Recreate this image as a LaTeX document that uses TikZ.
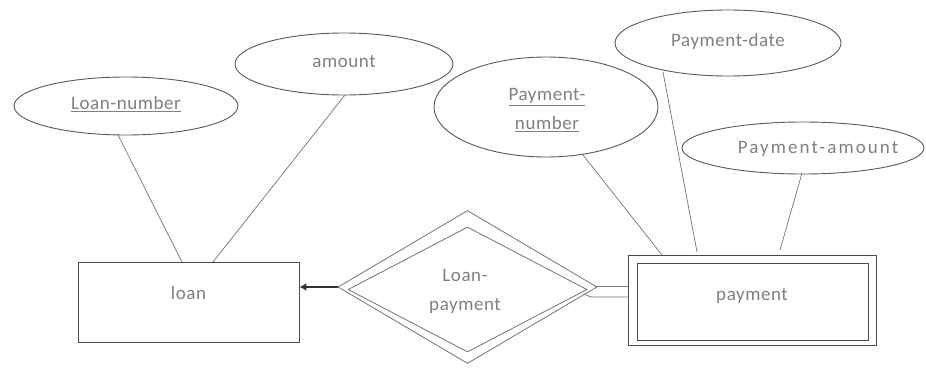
\documentclass[tikz,border=0pt]{standalone}
\usepackage{fontspec}
\setmainfont{Carlito}
\usetikzlibrary{shapes.geometric,arrows.meta}
\begin{document}
\begin{tikzpicture}[x=1pt,y=-1pt,
  attr/.style={ellipse,draw=black!65,line width=0.9pt,inner sep=0pt},
  lbl/.style={text=black!50,font=\fontsize{19}{29}\selectfont\addfontfeature{LetterSpace=3},align=center},
  wide/.style={font=\fontsize{19}{29}\selectfont\addfontfeature{LetterSpace=11}},
  ent/.style={rectangle,draw=black!70,line width=0.9pt,inner sep=0pt},
  rel/.style={diamond,draw=black!55,line width=0.8pt,inner sep=0pt},
  conn/.style={draw=black!55,line width=0.7pt}]
\fill[white] (0,0) rectangle (926,367);
\useasboundingbox (0,0) rectangle (926,367);
% attributes
\node[attr,minimum width=224pt,minimum height=58pt] (ln) at (126,106) {};
\node[lbl] at (126,104) {\underline{Loan-number}};
\node[attr,minimum width=218pt,minimum height=62pt] (am) at (344,64) {};
\node[lbl] at (344,62) {amount};
\node[attr,minimum width=224pt,minimum height=100pt] (pn) at (546,107) {};
\node[lbl] at (547,110) {\underline{Payment-}\\\underline{number}};
\node[attr,minimum width=226pt,minimum height=66pt] (pd) at (728,43) {};
\node[lbl] at (728,41) {Payment-date};
\node[attr,minimum width=242pt,minimum height=52pt] (pa) at (803,148) {};
\node[lbl,wide] at (818,149) {Payment-amount};
% entities
\node[ent,minimum width=221pt,minimum height=80pt] (loan) at (188.5,302) {};
\node[lbl] at (188.5,293) {loan};
\node[ent,minimum width=248pt,minimum height=90pt] (payo) at (752,300) {};
\node[ent,minimum width=231pt,minimum height=77pt] (pay) at (752.5,301.5) {};
\node[lbl] at (752,296) {payment};
% relationship
\node[rel,minimum width=259pt,minimum height=153pt] (relo) at (467.5,287) {};
\node[rel,minimum width=239pt,minimum height=125pt] (reli) at (467.5,289.5) {};
\node[lbl] at (465,291.5) {Loan-\\payment};
% connectors
\coordinate (lnb) at (118,135);
\coordinate (loant1) at (182,262);
\coordinate (amb) at (345,95);
\coordinate (loant2) at (213,262);
\draw[conn] (lnb) -- (loant1);
\draw[conn] (amb) -- (loant2);
\coordinate (pnb) at (583,155);
\coordinate (payt1) at (662,255);
\coordinate (pdb) at (663,72);
\coordinate (payt2) at (697,252);
\coordinate (pab) at (802,173);
\coordinate (payt3) at (780,250);
\draw[conn] (pnb) -- (payt1);
\draw[conn] (pdb) -- (payt2);
\draw[conn] (pab) -- (payt3);
\draw[draw=black!80,line width=1.6pt,-{Latex[length=7pt,width=8pt]}] (relo.west) -- (loan.east |- relo.west);
\draw[conn] ([xshift=-2pt,yshift=1pt]relo.east) -- ([yshift=1pt]payo.west |- relo.east);
\draw[conn] ([xshift=-14pt,yshift=-7pt]relo.east) -- ([xshift=-6pt,yshift=-10pt]relo.east) -- ([yshift=-10pt]payo.west |- relo.east);
\end{tikzpicture}
\end{document}
